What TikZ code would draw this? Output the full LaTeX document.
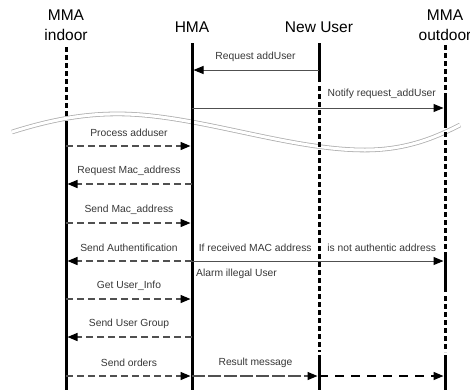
\documentclass[tikz,border=0pt]{standalone}
\usepackage{fontspec}
\setmainfont{Liberation Sans}
\usetikzlibrary{arrows.meta, calc}
\definecolor{msggray}{RGB}{80,80,80}
\definecolor{txtgray}{RGB}{55,55,55}
\definecolor{cutgray}{RGB}{175,175,175}

\begin{document}
\begin{tikzpicture}[
    x=1pt, y=-1pt,
    head/.style={align=center, font=\fontsize{15.5}{20}\selectfont, inner sep=0pt},
    lbl/.style={font=\fontsize{10.3}{12}\selectfont, text=txtgray, inner sep=0pt},
    life/.style={line width=3pt},
    lifedash/.style={life, dash pattern=on 5pt off 3pt},
    msg/.style={-{Triangle[length=10pt, width=8pt, color=black]}, msggray, line width=1pt, shorten >=1.5pt},
    call/.style={msg, dash pattern=on 7pt off 4pt, line width=1.4pt},
    result/.style={msg, dash pattern=on 13pt off 3pt, line width=1.4pt},
    forward/.style={msg, dash pattern=on 9pt off 7pt, line width=1.5pt, black}
]
\useasboundingbox (0,0) rectangle (470,389);

% Participants
\node[head] (indoor) at (66,25) {MMA\\indoor};
\node[head] (hma) at (192,27) {HMA};
\node[head] (user) at (319,27) {New User};
\node[head] (outdoor) at (445,25) {MMA\\outdoor};

% Time break
\draw[cutgray, line width=0.8pt, double=white, double distance=3pt]
    (12,132) .. controls (50,120) and (85,113) .. (125,114)
    .. controls (200,116) and (290,150) .. (365,150)
    .. controls (410,150) and (440,135) .. (460,125);

% Lifelines
\draw[lifedash] (indoor |- 0,47) -- (indoor |- 0,118);
\draw[life] (indoor |- 0,121) -- (indoor |- 0,392);
\draw[life] (hma |- 0,43) -- (hma |- 0,392);
\draw[life] (user |- 0,43) -- (user |- 0,82);
\draw[lifedash] (user |- 0,86) -- (user |- 0,352);
\draw[life] (user |- 0,355) -- (user |- 0,392);
\draw[lifedash] (outdoor |- 0,45) -- (outdoor |- 0,91);
\draw[life] (outdoor |- 0,93) -- (outdoor |- 0,128);
\draw[lifedash] (outdoor |- 0,132) -- (outdoor |- 0,250);
\draw[life] (outdoor |- 0,252) -- (outdoor |- 0,292);
\draw[lifedash] (outdoor |- 0,296) -- (outdoor |- 0,352);
\draw[life] (outdoor |- 0,355) -- (outdoor |- 0,392);

% Message rows
\coordinate (m1) at (0,70);
\coordinate (m2) at (0,108);
\coordinate (m3) at (0,146);
\coordinate (m4) at (0,184);
\coordinate (m5) at (0,223);
\coordinate (m6) at (0,261);
\coordinate (m7) at (0,299);
\coordinate (m8) at (0,337);
\coordinate (m9) at (0,376);

% Registration of the new user
\draw[msg] (user |- m1) -- node[lbl, midway, yshift=13pt] {Request addUser} (hma |- m1);
\draw[msg] (hma |- m2) -- node[lbl, pos=0.75, yshift=14pt] {Notify request\_addUser} (outdoor |- m2);

% Exchange between HMA and MMA indoor
\draw[call] (indoor |- m3) -- node[lbl, midway, yshift=13pt] {Process adduser} (hma |- m3);
\draw[call] (hma |- m4) -- node[lbl, midway, yshift=13pt] {Request Mac\_address} (indoor |- m4);
\draw[call] (indoor |- m5) -- node[lbl, midway, yshift=13pt] {Send Mac\_address} (hma |- m5);
\draw[call] (hma |- m6) -- node[lbl, midway, yshift=13pt] {Send Authentification} (indoor |- m6);
\draw[msg] (hma |- m6) -- node[lbl, pos=0.25, yshift=13pt] {If received MAC address}
    node[lbl, pos=0.75, yshift=13pt] {is not authentic address} (outdoor |- m6);
\node[lbl, anchor=west] (alarm) at ([xshift=4pt]hma |- 0,274) {Alarm illegal User};
\draw[call] (indoor |- m7) -- node[lbl, midway, yshift=13pt] {Get User\_Info} (hma |- m7);
\draw[call] (hma |- m8) -- node[lbl, midway, yshift=13pt] {Send User Group} (indoor |- m8);

% Orders and result
\draw[call] (indoor |- m9) -- node[lbl, midway, yshift=13pt] {Send orders} (hma |- m9);
\draw[result] (hma |- m9) -- node[lbl, midway, yshift=13pt] {Result message} (user |- m9);
\draw[forward] (user |- m9) -- (outdoor |- m9);

\end{tikzpicture}
\end{document}
